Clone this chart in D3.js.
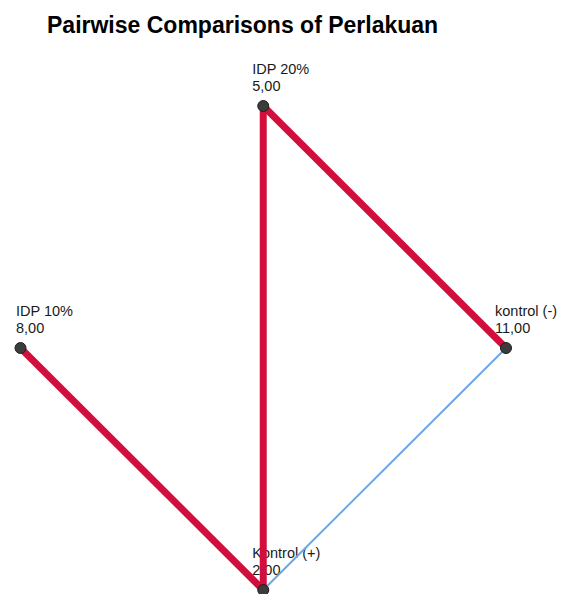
<!DOCTYPE html>
<html>
<head>
<meta charset="utf-8">
<script src="https://cdn.jsdelivr.net/npm/d3@7/dist/d3.min.js"></script>
<style>
  html, body { margin: 0; padding: 0; background: #fff; }
  svg { display: block; }
</style>
</head>
<body>
<svg id="chart" width="569" height="594"></svg>
<script>
// ---- data ----
const title = "Pairwise Comparisons of Perlakuan";
const nodeNames = ["IDP 20%", "kontrol (-)", "Kontrol (+)", "IDP 10%"]; // clockwise from top
const meanRanks = [5.00, 11.00, 2.00, 8.00];
const edgeFrom = ["kontrol (-)", "IDP 20%", "IDP 20%", "IDP 10%"];
const edgeTo   = ["Kontrol (+)", "kontrol (-)", "Kontrol (+)", "Kontrol (+)"];
const edgeSignificant = [false, true, true, true];

// ---- layout ----
const svg = d3.select("#chart");
const angle = d3.scaleLinear().domain([0, nodeNames.length]).range([-Math.PI / 2, 3 * Math.PI / 2]);
const x = d3.scaleLinear().domain([-1, 1]).range([20.5, 506]);
const y = d3.scaleLinear().domain([-1, 1]).range([106, 590]);

const fmt = v => d3.format(".2f")(v).replace(".", ",");
const nodes = nodeNames.map((name, i) => ({
  name, value: meanRanks[i],
  x: x(Math.cos(angle(i))), y: y(Math.sin(angle(i)))
}));
const byName = new Map(nodes.map(n => [n.name, n]));
const edges = edgeFrom.map((f, i) => ({ s: byName.get(f), t: byName.get(edgeTo[i]), sig: edgeSignificant[i] }));

svg.append("text")
  .attr("x", 47).attr("y", 33)
  .attr("font-family", "Liberation Sans, Arial, sans-serif")
  .attr("font-weight", "bold").attr("font-size", 23)
  .attr("fill", "#000")
  .text(title);

// labels (drawn beneath edges)
const lab = svg.append("g")
  .attr("font-family", "Liberation Sans, Arial, sans-serif")
  .attr("font-size", 14.5).attr("fill", "#1a1a1a");
nodes.forEach(n => {
  const tx = Math.max(16, n.x - 11);
  lab.append("text").attr("x", tx).attr("y", n.y - 32).text(n.name);
  lab.append("text").attr("x", tx).attr("y", n.y - 15.5).text(fmt(n.value));
});

// edges: non-significant first, then significant
const eg = svg.append("g").attr("stroke-linecap", "round");
edges.filter(e => !e.sig).forEach(e => {
  eg.append("line")
    .attr("x1", e.s.x).attr("y1", e.s.y).attr("x2", e.t.x).attr("y2", e.t.y)
    .attr("stroke", "#6aa8e8").attr("stroke-width", 2);
});
edges.filter(e => e.sig).forEach(e => {
  eg.append("line")
    .attr("x1", e.s.x).attr("y1", e.s.y).attr("x2", e.t.x).attr("y2", e.t.y)
    .attr("stroke", "#d20f3c").attr("stroke-width", 7);
});

// nodes
svg.append("g").selectAll("circle").data(nodes).join("circle")
  .attr("cx", d => d.x).attr("cy", d => d.y).attr("r", 5.5)
  .attr("fill", "#3c3c3c").attr("stroke", "#1e1e1e").attr("stroke-width", 1);
</script>
</body>
</html>
